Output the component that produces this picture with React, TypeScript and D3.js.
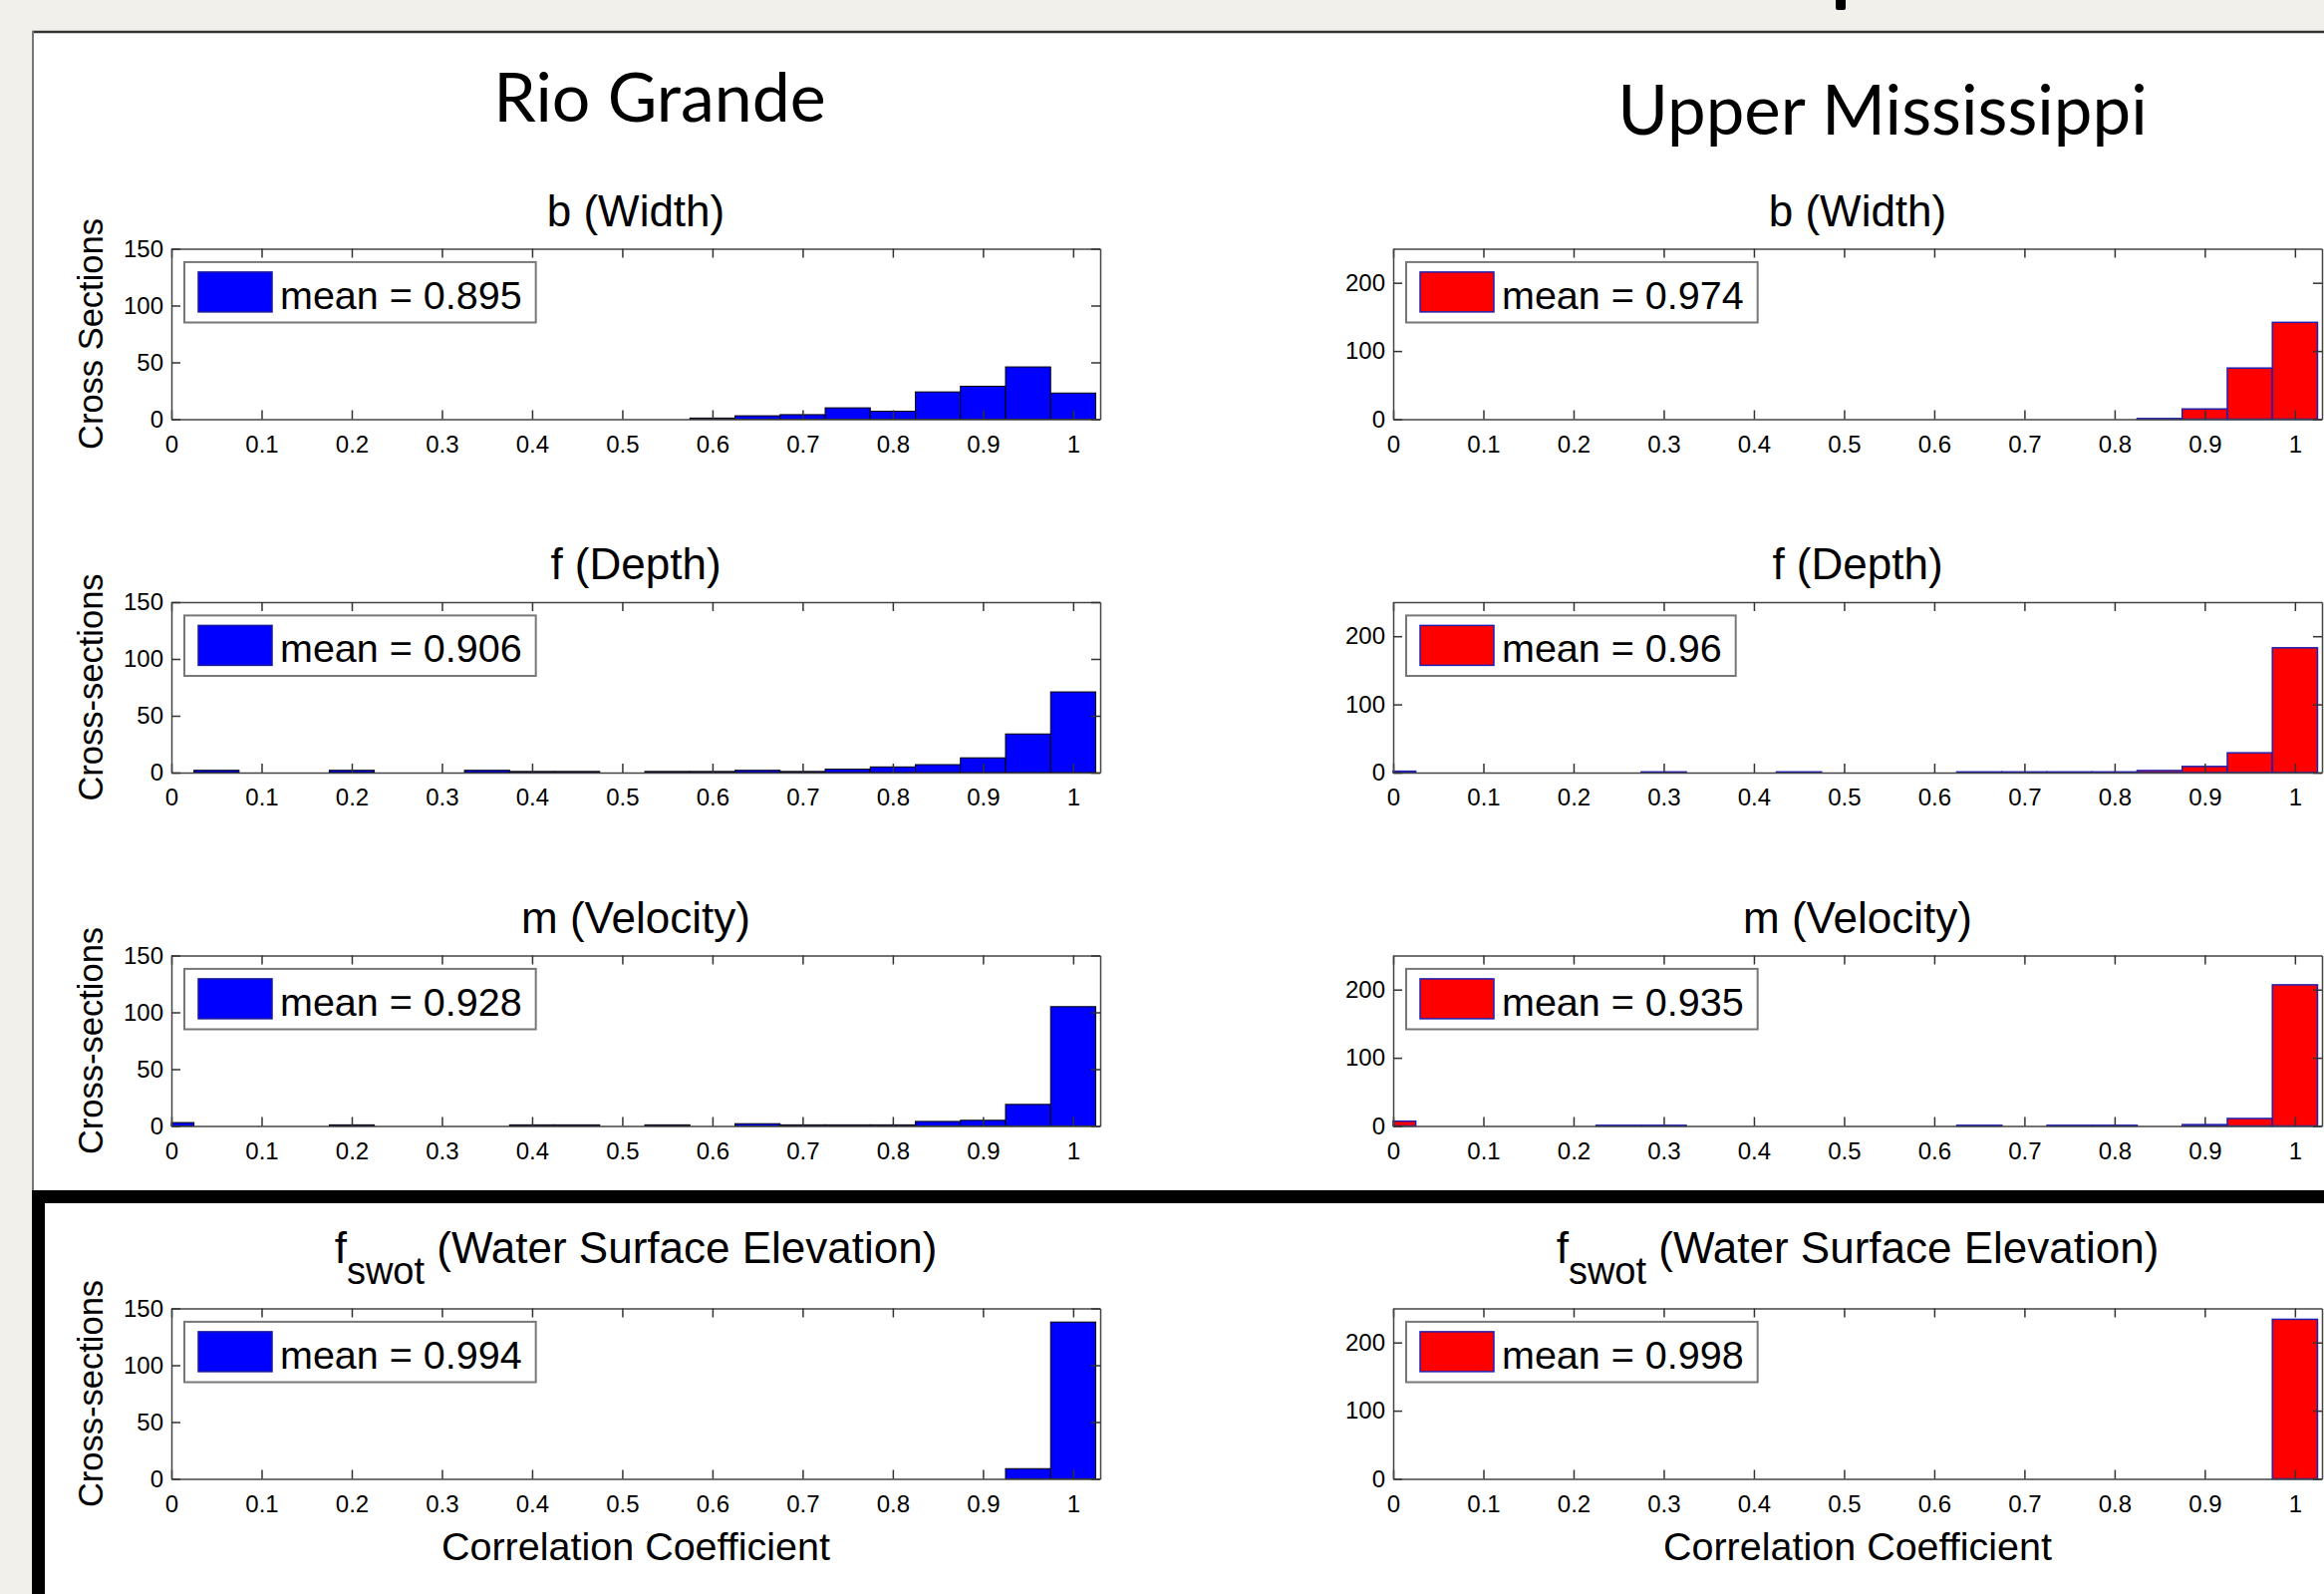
import React, { useEffect, useRef } from "react";
import * as d3 from "d3";

// histogram bin centres (hist with 0:0.05:1)
const binCenters = [0, 0.05, 0.1, 0.15, 0.2, 0.25, 0.3, 0.35, 0.4, 0.45, 0.5, 0.55, 0.6, 0.65, 0.7, 0.75, 0.8, 0.85, 0.9, 0.95, 1];
const xTicks = [0, 0.1, 0.2, 0.3, 0.4, 0.5, 0.6, 0.7, 0.8, 0.9, 1];
const rioYTicks = [0, 50, 100, 150];
const umYTicks = [0, 100, 200];

// Rio Grande counts per bin
const rioWidth = [0, 0, 0, 0, 0, 0, 0, 0, 0, 0, 0, 0, 1, 3, 4, 10, 7, 24, 29, 46, 23];
const rioDepth = [0, 2, 0, 0, 2, 0, 0, 2, 1, 1, 0, 1, 1, 2, 1, 3, 5, 7, 13, 34, 71];
const rioVelocity = [3, 0, 0, 0, 1, 0, 0, 0, 1, 1, 0, 1, 0, 2, 1, 1, 1, 4, 5, 19, 105];
const rioWse = [0, 0, 0, 0, 0, 0, 0, 0, 0, 0, 0, 0, 0, 0, 0, 0, 0, 0, 0, 9, 138];

// Upper Mississippi counts per bin
const umWidth = [0, 0, 0, 0, 0, 0, 0, 0, 0, 0, 0, 0, 0, 0, 0, 0, 0, 1, 15, 75, 142];
const umDepth = [2, 0, 0, 0, 0, 0, 1, 0, 0, 1, 0, 0, 0, 1, 1, 1, 1, 3, 9, 29, 183];
const umVelocity = [7, 0, 0, 0, 0, 1, 1, 0, 0, 0, 0, 0, 0, 1, 0, 1, 1, 0, 2, 11, 207];
const umWse = [0, 0, 0, 0, 0, 0, 0, 0, 0, 0, 0, 0, 0, 0, 0, 0, 0, 0, 0, 0, 234];

const rioMeans = ["0.895", "0.906", "0.928", "0.994"];
const umMeans = ["0.974", "0.96", "0.935", "0.998"];
const panelTitles = ["b (Width)", "f (Depth)", "m (Velocity)", "(Water Surface Elevation)"];
const rioYLabels = ["Cross Sections", "Cross-sections", "Cross-sections", "Cross-sections"];

const W = 2332;
const H = 1599;
const FONT = "'Liberation Sans', Arial, Helvetica, sans-serif";

const App = () => {
  const svgRef = useRef(null);

  useEffect(() => {
    const svg = d3.select(svgRef.current);
    svg.selectAll("*").remove();

    // slide background and frame
    svg.append("rect").attr("width", W).attr("height", H).attr("fill", "#f2f0ea");
    svg.append("rect").attr("x", 32).attr("y", 31).attr("width", W - 32).attr("height", H - 31).attr("fill", "#fff");
    svg.append("line").attr("x1", 32).attr("x2", W).attr("y1", 32).attr("y2", 32).attr("stroke", "#333").attr("stroke-width", 2.5);
    svg.append("line").attr("x1", 33).attr("x2", 33).attr("y1", 31).attr("y2", 1195).attr("stroke", "#777").attr("stroke-width", 2);
    svg.append("rect").attr("x", 32).attr("y", 1194).attr("width", W - 32).attr("height", 13).attr("fill", "#000");
    svg.append("rect").attr("x", 32).attr("y", 1194).attr("width", 13).attr("height", H - 1194).attr("fill", "#000");
    // bit of a cut-off glyph from the slide heading above
    svg.append("rect").attr("x", 1842).attr("y", -4).attr("width", 10).attr("height", 14).attr("rx", 2).attr("fill", "#000");

    // column headings
    svg.append("text").attr("x", 662).attr("y", 122).attr("text-anchor", "middle")
      .style("font-family", "Lato, 'Open Sans', sans-serif").style("font-size", "68px").text("Rio Grande");
    svg.append("text").attr("x", 1889).attr("y", 135).attr("text-anchor", "middle")
      .style("font-family", "Lato, 'Open Sans', sans-serif").style("font-size", "69px").text("Upper Mississippi");

    const tops = [249.5, 604, 958.5, 1312.5];
    const plotH = 171;

    const columns = [
      { x0: 172, x1: 1104, data: [rioWidth, rioDepth, rioVelocity, rioWse], means: rioMeans, ymax: 150, yTicks: rioYTicks, fill: "#0000ff", edge: "#000", edgeW: 1, swatchEdge: "#1a1a9a", labels: rioYLabels },
      { x0: 1398, x1: 2330, data: [umWidth, umDepth, umVelocity, umWse], means: umMeans, ymax: 250, yTicks: umYTicks, fill: "#ff0000", edge: "#2020b0", edgeW: 1.5, swatchEdge: "#2020b0", labels: null },
    ];

    columns.forEach((col) => {
      const w = col.x1 - col.x0;
      const x = d3.scaleLinear().domain([0, 1.03]).range([0, w]);
      const y = d3.scaleLinear().domain([0, col.ymax]).range([plotH, 0]);

      col.data.forEach((counts, row) => {
        const top = tops[row];
        const g = svg.append("g").attr("transform", `translate(${col.x0},${top})`);
        g.append("rect").attr("width", w).attr("height", plotH).attr("fill", "#fff");

        // bars
        const bins = binCenters.map((c, i) => ({ lo: Math.max(0, c - 0.025), hi: c + 0.025, n: counts[i] })).filter((d) => d.n > 0);
        g.selectAll("rect.bar").data(bins).enter().append("rect")
          .attr("class", "bar")
          .attr("x", (d) => x(d.lo))
          .attr("width", (d) => x(d.hi) - x(d.lo))
          .attr("y", (d) => y(d.n))
          .attr("height", (d) => plotH - y(d.n))
          .attr("fill", col.fill)
          .attr("stroke", col.edge)
          .attr("stroke-width", col.edgeW);

        // axes, ticks pointing inward like matlab
        const styleAxis = (sel) => {
          sel.selectAll("path").attr("stroke", "#444").attr("stroke-width", 1.5);
          sel.selectAll("line").attr("stroke", "#333").attr("stroke-width", 1.5);
          sel.selectAll("text").style("font-family", FONT).style("font-size", "24px").attr("fill", "#000");
        };
        g.append("g").attr("transform", `translate(0,${plotH})`)
          .call(d3.axisBottom(x).tickValues(xTicks).tickSize(-9).tickSizeOuter(0).tickPadding(16).tickFormat(d3.format("")))
          .call(styleAxis);
        g.append("g")
          .call(d3.axisTop(x).tickValues(xTicks).tickSize(-9).tickSizeOuter(0).tickFormat(() => ""))
          .call(styleAxis);
        g.append("g")
          .call(d3.axisLeft(y).tickValues(col.yTicks).tickSize(-9).tickSizeOuter(0).tickPadding(8))
          .call(styleAxis);
        g.append("g").attr("transform", `translate(${w},0)`)
          .call(d3.axisRight(y).tickValues(col.yTicks).tickSize(-9).tickSizeOuter(0).tickFormat(() => ""))
          .call(styleAxis);

        // legend
        const lg = g.append("g").attr("transform", "translate(13,13.4)");
        const box = lg.append("rect").attr("height", 60.6).attr("fill", "#fff").attr("stroke", "#777").attr("stroke-width", 2);
        lg.append("rect").attr("x", 14).attr("y", 10).attr("width", 74).attr("height", 40)
          .attr("fill", col.fill).attr("stroke", col.swatchEdge).attr("stroke-width", 1.5);
        const txt = lg.append("text").attr("x", 96).attr("y", 47)
          .style("font-family", FONT).style("font-size", "39.5px").text(`mean = ${col.means[row]}`);
        const len = (txt.node() as SVGTextElement).getComputedTextLength();
        box.attr("width", 96 + len + 14);

        // panel title
        const title = g.append("text").attr("x", w / 2).attr("text-anchor", "middle")
          .style("font-family", FONT).style("font-size", "44px");
        if (row === 3) {
          title.attr("y", -46);
          title.append("tspan").text("f");
          title.append("tspan").attr("dy", 21).style("font-size", "38px").text("swot");
          title.append("tspan").attr("dy", -21).text(" " + panelTitles[row]);
        } else {
          title.attr("y", -22.6).text(panelTitles[row]);
        }

        // y label
        if (col.labels) {
          svg.append("text").attr("transform", `translate(103,${top + plotH / 2}) rotate(-90)`)
            .attr("text-anchor", "middle").style("font-family", FONT).style("font-size", "34.5px")
            .text(col.labels[row]);
        }

        if (row === 3) {
          g.append("text").attr("x", w / 2).attr("y", 1565 - top).attr("text-anchor", "middle")
            .style("font-family", FONT).style("font-size", "39.5px").text("Correlation Coefficient");
        }
      });
    });

    return () => {
      svg.selectAll("*").remove();
    };
  }, []);

  return (
    <div>
      <svg ref={svgRef} width={W} height={H} style={{ position: "absolute", left: 0, top: 0 }} />
    </div>
  );
};

export default App;
